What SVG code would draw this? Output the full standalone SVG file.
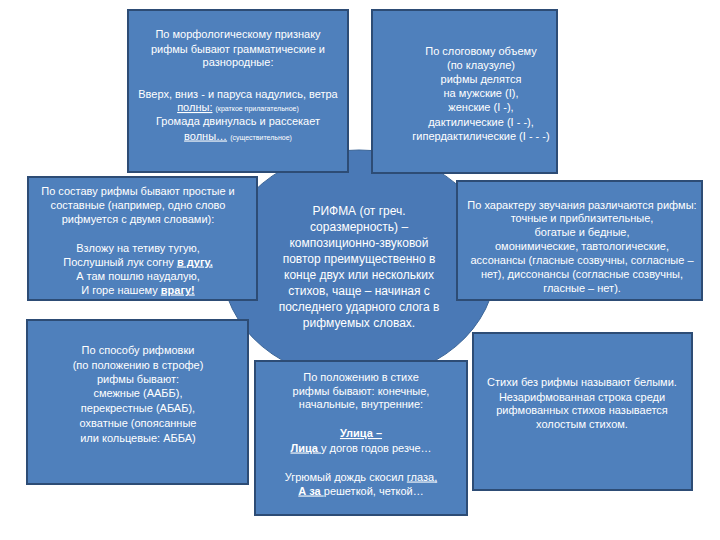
<svg xmlns="http://www.w3.org/2000/svg" width="720" height="540" viewBox="0 0 720 540">
<style>
.bg{fill:#ffffff}
.box{fill:#4f80bc;stroke:#2d4c75;stroke-width:2}
.hub{fill:#4a79b6;stroke:#3b6597;stroke-width:1}
.t{font-family:"Liberation Sans",Arial,sans-serif;font-size:11px;fill:#ffffff;text-anchor:middle}
.c{font-size:12px}
.s{font-size:7px}
.u{text-decoration:underline}
.b{font-weight:bold}
</style>
<rect class="bg" x="0" y="0" width="720" height="540"/>
<g id="hub">
<ellipse class="hub" cx="359" cy="265" rx="137" ry="115"/>
<text class="t c" x="359" y="215">РИФМА (от греч.</text>
<text class="t c" x="359" y="231">соразмерность) –</text>
<text class="t c" x="359" y="247">композиционно-звуковой</text>
<text class="t c" x="359" y="263">повтор преимущественно в</text>
<text class="t c" x="359" y="279">конце двух или нескольких</text>
<text class="t c" x="359" y="295">стихов, чаще – начиная с</text>
<text class="t c" x="359" y="311">последнего ударного слога в</text>
<text class="t c" x="359" y="327">рифмуемых словах.</text>
</g>
<g id="connectors"/>
<g id="morph">
<rect class="box" x="128" y="10" width="220" height="162"/>
<text class="t" x="238" y="38">По морфологическому признаку</text>
<text class="t" x="238" y="53">рифмы бывают грамматические и</text>
<text class="t" x="238" y="66">разнородные:</text>
<text class="t" x="238" y="98">Вверх, вниз - и паруса надулись, ветра</text>
<text class="t" x="238" y="111"><tspan class="u">полны:</tspan> <tspan class="s">(краткое прилагательное)</tspan></text>
<text class="t" x="238" y="124.5">Громада двинулась и рассекает</text>
<text class="t" x="238" y="139.5"><tspan class="u">волны…</tspan> <tspan class="s">(существительное)</tspan></text>
</g>
<g id="syllable">
<rect class="box" x="372" y="10" width="185" height="163"/>
<text class="t" x="481" y="54.5">По слоговому объему</text>
<text class="t" x="481" y="69">(по клаузуле)</text>
<text class="t" x="481" y="82.5">рифмы делятся</text>
<text class="t" x="481" y="97">на мужские (I),</text>
<text class="t" x="481" y="111">женские (I -),</text>
<text class="t" x="481" y="126">дактилические (I - -),</text>
<text class="t" x="481" y="140">гипердактилические (I - - -)</text>
</g>
<g id="composition">
<rect class="box" x="28" y="177" width="229" height="123"/>
<text class="t" x="138" y="195">По составу рифмы бывают простые и</text>
<text class="t" x="138" y="209">составные (например, одно слово</text>
<text class="t" x="138" y="223">рифмуется с двумя словами):</text>
<text class="t" x="138" y="251.5">Взложу на тетиву тугую,</text>
<text class="t" x="138" y="265.5">Послушный лук согну <tspan class="u b">в дугу.</tspan></text>
<text class="t" x="138" y="279.5">А там пошлю наудалую,</text>
<text class="t" x="138" y="293.5">И горе нашему <tspan class="u b">врагу!</tspan></text>
</g>
<g id="sound">
<rect class="box" x="457" y="181" width="245" height="119"/>
<text class="t" x="582" y="209">По характеру звучания различаются рифмы:</text>
<text class="t" x="582" y="222">точные и приблизительные,</text>
<text class="t" x="582" y="236">богатые и бедные,</text>
<text class="t" x="582" y="249.5">омонимические, тавтологические,</text>
<text class="t" x="582" y="264">ассонансы (гласные созвучны, согласные –</text>
<text class="t" x="582" y="277.5">нет), диссонансы (согласные созвучны,</text>
<text class="t" x="582" y="291.5">гласные – нет).</text>
</g>
<g id="stanza">
<rect class="box" x="27" y="320" width="221" height="164"/>
<text class="t" x="138" y="354">По способу рифмовки</text>
<text class="t" x="138" y="369">(по положению в строфе)</text>
<text class="t" x="138" y="383">рифмы бывают:</text>
<text class="t" x="138" y="397">смежные (ААББ),</text>
<text class="t" x="138" y="412">перекрестные (АБАБ),</text>
<text class="t" x="138" y="427">охватные (опоясанные</text>
<text class="t" x="138" y="441.5">или кольцевые: АББА)</text>
</g>
<g id="position">
<rect class="box" x="255" y="361" width="212" height="154"/>
<text class="t" x="361" y="380.5">По положению в стихе</text>
<text class="t" x="361" y="394.5">рифмы бывают: конечные,</text>
<text class="t" x="361" y="408">начальные,  внутренние:</text>
<text class="t" x="361" y="437"><tspan class="u b">Улица –</tspan></text>
<text class="t" x="361" y="451.5"><tspan class="u b">Лица </tspan>у догов годов резче…</text>
<text class="t" x="361" y="480.5">Угрюмый дождь скосил <tspan class="u">глаза,</tspan></text>
<text class="t" x="361" y="494.5"><tspan class="u b">А за </tspan>решеткой, четкой…</text>
</g>
<g id="blank">
<rect class="box" x="473" y="333" width="219" height="157"/>
<text class="t" x="582" y="385.5">Стихи без рифмы называют белыми.</text>
<text class="t" x="582" y="400.5">Незарифмованная строка среди</text>
<text class="t" x="582" y="414">рифмованных стихов называется</text>
<text class="t" x="582" y="428">холостым стихом.</text>
</g>
</svg>
